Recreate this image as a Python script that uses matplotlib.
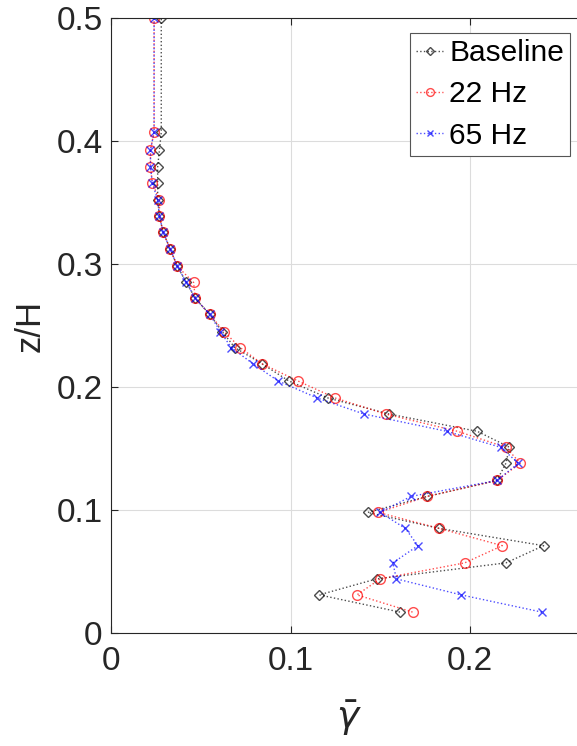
import numpy as np
import matplotlib
matplotlib.use('Agg')
import matplotlib.pyplot as plt

plt.rcParams['font.family'] = ['Liberation Sans', 'DejaVu Sans']
plt.rcParams['mathtext.fontset'] = 'dejavusans'

# z/H levels (bottom to top)
z = [0.017, 0.031, 0.044, 0.057, 0.071, 0.085, 0.098, 0.111, 0.124, 0.138,
     0.151, 0.164, 0.178, 0.191, 0.205, 0.219, 0.232, 0.245, 0.259, 0.272,
     0.285, 0.298, 0.312, 0.326, 0.339, 0.352, 0.366, 0.379, 0.393, 0.407, 0.500]

baseline = [0.161, 0.116, 0.148, 0.220, 0.241, 0.183, 0.143, 0.176, 0.215, 0.220,
            0.222, 0.204, 0.155, 0.121, 0.099, 0.084, 0.069, 0.062, 0.055, 0.047,
            0.042, 0.037, 0.033, 0.029, 0.027, 0.026, 0.026, 0.026, 0.027, 0.028, 0.028]

hz22 = [0.168, 0.137, 0.150, 0.197, 0.218, 0.183, 0.149, 0.176, 0.215, 0.228,
        0.220, 0.193, 0.153, 0.125, 0.104, 0.084, 0.072, 0.063, 0.055, 0.047,
        0.046, 0.037, 0.033, 0.029, 0.027, 0.027, 0.023, 0.022, 0.022, 0.024, 0.024]

hz65 = [0.240, 0.195, 0.159, 0.157, 0.171, 0.164, 0.150, 0.167, 0.215, 0.227,
        0.217, 0.187, 0.141, 0.115, 0.093, 0.079, 0.067, 0.061, 0.055, 0.047,
        0.042, 0.037, 0.033, 0.029, 0.027, 0.026, 0.023, 0.022, 0.022, 0.024, 0.024]

fig = plt.figure(figsize=[5.77, 7.46], dpi=100)
# right spine sits just outside the picture, as in the original crop
ax = fig.add_axes([111/577, 1-633/746, 476/577, 615/746])

ax.plot(baseline, z, linestyle=':', color=(0, 0, 0, 0.7), marker='D', markersize=5.5,
        markerfacecolor='none', markeredgecolor=(0, 0, 0, 0.7), linewidth=1, label='Baseline')
ax.plot(hz22, z, linestyle=':', color=(1, 0, 0, 0.7), marker='o', markersize=7,
        markerfacecolor='none', markeredgecolor=(1, 0, 0, 0.7), linewidth=1, label='22 Hz')
ax.plot(hz65, z, linestyle=':', color=(0, 0, 1, 0.7), marker='x', markersize=6,
        markeredgecolor=(0, 0, 1, 0.7), linewidth=1, label='65 Hz')

ax.set_xlim(0, 476/1795)
ax.set_ylim(0, 0.5)
ax.set_xticks([0, 0.1, 0.2])
ax.set_xticklabels(['0', '0.1', '0.2'])
ax.set_yticks([0, 0.1, 0.2, 0.3, 0.4, 0.5])
ax.set_yticklabels(['0', '0.1', '0.2', '0.3', '0.4', '0.5'])
ax.grid(True, color='#dcdcdc', linewidth=0.8)
ax.set_axisbelow(True)
ax.tick_params(direction='in', length=5, labelsize=24, colors='#262626',
               top=True, right=True)
ax.tick_params(axis='x', pad=9)
ax.tick_params(axis='y', pad=6)
for s in ax.spines.values():
    s.set_color('#262626')
    s.set_linewidth(0.8)

ax.set_xlabel(r'$\bar{\gamma}$', fontsize=27, color='#262626', labelpad=16)
ax.set_ylabel('z/H', fontsize=25, color='#262626', labelpad=7)

leg = ax.legend(loc='upper right', bbox_to_anchor=(570/577, 1-33/746),
                bbox_transform=fig.transFigure, borderaxespad=0,
                fontsize=21.5, fancybox=False, framealpha=1,
                edgecolor='#555555', handlelength=0.9, handletextpad=0.2,
                borderpad=0.2, labelspacing=0.45, markerscale=0.8)
leg.get_frame().set_linewidth(0.8)

plt.savefig('out.png', dpi=100)
plt.close()
